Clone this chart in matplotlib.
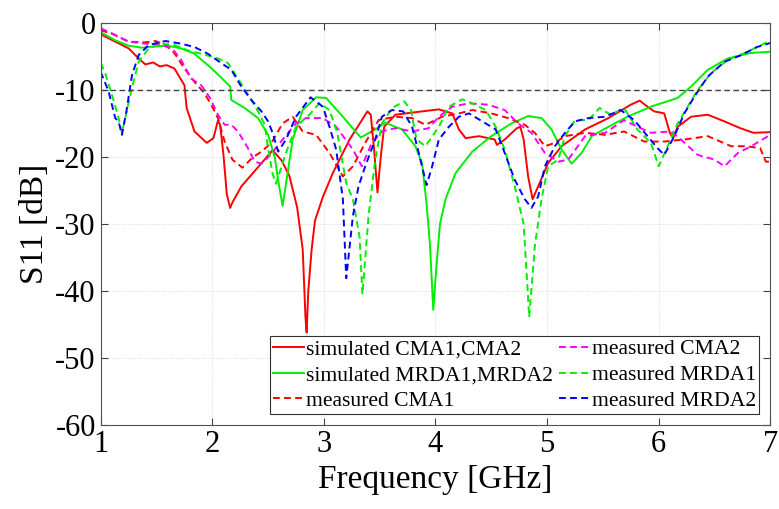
import numpy as np
import matplotlib
matplotlib.use("Agg")
import matplotlib.pyplot as plt

# simulated CMA1,CMA2 (red solid)
f_sim_cma = [1.0, 1.25, 1.34, 1.40, 1.47, 1.53, 1.59, 1.66, 1.75, 1.77, 1.84, 1.95, 2.01, 2.05, 2.07,
             2.10, 2.13, 2.16, 2.18, 2.26, 2.38, 2.54, 2.62, 2.69, 2.76, 2.81, 2.835, 2.845, 2.86, 2.89,
             2.92, 2.99, 3.08, 3.23, 3.39, 3.42, 3.45, 3.48, 3.51, 3.54, 3.64, 3.88, 4.03, 4.15, 4.21,
             4.27, 4.39, 4.53, 4.55, 4.62, 4.73, 4.76, 4.79, 4.83, 4.87, 4.92, 5.01, 5.13, 5.34, 5.55,
             5.75, 5.83, 5.90, 5.96, 6.05, 6.10, 6.13, 6.17, 6.29, 6.44, 6.59, 6.73, 6.85, 7.0]
s_sim_cma = [-1.7, -3.8, -5.3, -6.2, -5.9, -6.5, -6.3, -6.8, -9.3, -12.7, -16.2, -17.9, -17.2, -14.6, -15.2,
             -19.7, -25.6, -27.6, -26.8, -24.4, -22.1, -19.0, -20.5, -22.8, -27.5, -33.8, -44.0, -46.2, -40.0, -33.8,
             -29.5, -26.0, -22.4, -17.4, -13.2, -13.7, -18.9, -25.3, -19.9, -15.5, -13.7, -13.2, -12.9, -13.5, -15.9,
             -17.2, -16.9, -17.4, -18.2, -17.4, -15.7, -15.5, -17.4, -22.9, -26.3, -24.4, -20.9, -18.4, -15.9, -14.2,
             -12.2, -11.6, -12.5, -13.2, -13.5, -16.4, -17.2, -15.5, -14.0, -13.7, -14.7, -15.7, -16.4, -16.3]

# simulated MRDA1,MRDA2 (green solid)
f_sim_mrda = [1.0, 1.13, 1.25, 1.37, 1.49, 1.60, 1.72, 1.84, 1.96, 2.07, 2.16, 2.17, 2.29, 2.41, 2.50,
              2.56, 2.60, 2.63, 2.66, 2.72, 2.81, 2.93, 3.02, 3.17, 3.33, 3.46, 3.55, 3.70, 3.82, 3.88,
              3.92, 3.95, 3.98, 4.01, 4.04, 4.09, 4.18, 4.33, 4.50, 4.68, 4.83, 4.95, 5.04, 5.13, 5.22,
              5.31, 5.40, 5.55, 5.72, 5.93, 6.17, 6.29, 6.44, 6.62, 6.82, 7.0]
s_sim_mrda = [-1.4, -2.6, -3.4, -3.7, -3.5, -3.4, -3.8, -4.6, -6.3, -8.0, -9.5, -11.5, -12.7, -14.2, -16.7,
              -20.1, -24.5, -27.3, -24.0, -17.4, -13.0, -11.1, -11.2, -14.0, -17.1, -15.9, -14.9, -15.9, -18.4, -21.0,
              -27.0, -33.0, -42.8, -36.0, -30.0, -26.3, -22.4, -19.2, -16.9, -15.0, -13.9, -14.2, -15.9, -18.9, -21.0,
              -19.4, -16.9, -15.5, -14.0, -12.5, -11.2, -9.5, -7.0, -5.3, -4.5, -4.3]

# measured CMA1 (red dashed)
f_meas_cma1 = [1.0, 1.10, 1.25, 1.40, 1.49, 1.58, 1.66, 1.75, 1.84, 1.93, 1.99, 2.05, 2.11, 2.18, 2.27,
               2.36, 2.44, 2.53, 2.63, 2.72, 2.81, 2.93, 3.05, 3.17, 3.26, 3.37, 3.49, 3.64, 3.79, 3.91,
               4.06, 4.21, 4.33, 4.50, 4.65, 4.80, 4.89, 4.98, 5.07, 5.16, 5.34, 5.52, 5.69, 5.87, 6.05,
               6.23, 6.44, 6.65, 6.79, 6.91, 6.96, 7.0]
s_meas_cma1 = [-1.1, -1.6, -2.8, -2.9, -2.7, -3.3, -4.5, -6.8, -8.8, -10.5, -12.2, -14.2, -17.7, -20.4, -21.6,
               -20.1, -19.2, -17.9, -15.0, -14.0, -16.2, -16.7, -19.4, -22.9, -21.4, -17.9, -14.5, -14.0, -14.2, -15.2,
               -14.0, -13.5, -13.0, -13.5, -14.2, -15.2, -16.4, -18.4, -17.9, -16.9, -16.4, -16.7, -16.2, -17.7, -17.7,
               -17.4, -16.9, -18.4, -18.4, -18.7, -20.7, -20.7]

# measured CMA2 (magenta dashed)
f_meas_cma2 = [1.0, 1.13, 1.25, 1.40, 1.52, 1.64, 1.72, 1.81, 1.90, 1.98, 2.05, 2.11, 2.17, 2.23, 2.32,
               2.38, 2.44, 2.51, 2.63, 2.75, 2.84, 2.99, 3.11, 3.26, 3.34, 3.43, 3.52, 3.64, 3.79, 3.94,
               4.03, 4.15, 4.30, 4.47, 4.62, 4.74, 4.86, 4.98, 5.10, 5.19, 5.34, 5.52, 5.69, 5.81, 5.93,
               6.11, 6.20, 6.35, 6.50, 6.59, 6.71, 6.83, 7.0]
s_meas_cma2 = [-0.8, -1.8, -2.8, -3.1, -3.2, -3.8, -5.5, -8.3, -9.3, -11.2, -13.7, -15.2, -15.2, -16.2, -18.7,
               -20.7, -21.0, -19.9, -17.4, -15.0, -14.2, -14.2, -15.5, -18.9, -21.4, -17.9, -16.2, -15.7, -16.2, -15.7,
               -14.0, -12.5, -12.0, -12.2, -13.0, -15.0, -16.4, -19.4, -20.7, -20.4, -16.9, -16.4, -14.5, -15.5, -16.4,
               -16.2, -17.4, -19.7, -20.4, -21.4, -19.4, -18.4, -16.7]

# measured MRDA1 (green dashed)
f_meas_mrda1 = [1.0, 1.04, 1.10, 1.16, 1.19, 1.22, 1.28, 1.34, 1.43, 1.55, 1.66, 1.78, 1.90, 2.05, 2.14,
                2.23, 2.32, 2.41, 2.47, 2.50, 2.54, 2.57, 2.66, 2.75, 2.87, 2.96, 3.05, 3.12, 3.20, 3.26,
                3.32, 3.345, 3.40, 3.46, 3.52, 3.61, 3.72, 3.78, 3.83, 3.91, 4.03, 4.12, 4.24, 4.33, 4.45,
                4.54, 4.62, 4.71, 4.79, 4.84, 4.89, 4.95, 5.01, 5.10, 5.16, 5.25, 5.37, 5.47, 5.57, 5.69,
                5.81, 5.93, 6.00, 6.08, 6.17, 6.26, 6.35, 6.47, 6.62, 6.77, 6.92, 7.0]
s_meas_mrda1 = [-6.0, -7.5, -10.7, -14.2, -16.4, -14.2, -9.7, -5.8, -3.8, -3.1, -3.3, -4.1, -4.6, -5.3, -6.0,
                -8.3, -10.7, -13.2, -15.2, -18.7, -22.5, -24.0, -19.4, -15.5, -13.7, -12.0, -13.0, -16.4, -23.9, -26.3,
                -32.0, -40.5, -28.8, -20.4, -15.0, -12.7, -11.7, -13.0, -17.4, -18.4, -15.5, -12.5, -11.4, -12.0, -13.0,
                -15.5, -18.9, -24.4, -30.0, -43.9, -33.3, -26.3, -21.4, -20.4, -16.9, -14.5, -14.5, -12.7, -13.7, -12.7,
                -15.9, -17.9, -21.4, -18.4, -15.0, -12.5, -10.0, -7.5, -5.5, -4.5, -3.3, -2.6]

# measured MRDA2 (blue dashed)
f_meas_mrda2 = [1.0, 1.07, 1.13, 1.16, 1.19, 1.23, 1.28, 1.34, 1.43, 1.58, 1.72, 1.84, 1.96, 2.08, 2.17,
                2.26, 2.35, 2.44, 2.50, 2.54, 2.59, 2.66, 2.75, 2.88, 2.99, 3.05, 3.11, 3.17, 3.20, 3.26,
                3.31, 3.37, 3.46, 3.52, 3.61, 3.71, 3.79, 3.85, 3.92, 3.97, 4.03, 4.12, 4.21, 4.30, 4.42,
                4.54, 4.62, 4.71, 4.80, 4.86, 4.92, 4.98, 5.07, 5.16, 5.25, 5.37, 5.52, 5.66, 5.78, 5.90,
                5.99, 6.05, 6.14, 6.23, 6.32, 6.44, 6.59, 6.74, 6.88, 7.0]
s_meas_mrda2 = [-7.3, -10.2, -14.2, -14.7, -16.7, -13.2, -7.8, -4.8, -3.3, -2.7, -3.1, -3.6, -4.6, -6.0, -7.0,
                -9.5, -11.5, -13.2, -14.7, -16.4, -19.2, -17.4, -14.0, -11.1, -12.5, -15.5, -18.9, -26.3, -38.1, -28.8,
                -24.4, -21.4, -17.4, -14.0, -13.0, -13.2, -15.5, -19.4, -24.2, -21.4, -17.4, -15.5, -14.0, -13.5, -14.7,
                -15.9, -19.4, -23.4, -26.3, -27.6, -25.9, -21.4, -18.4, -16.4, -14.7, -14.2, -14.0, -13.0, -14.5, -16.9,
                -18.7, -19.7, -16.9, -13.5, -11.0, -8.0, -5.8, -4.8, -3.6, -3.0]

plt.rcParams['font.family'] = ['Liberation Serif', 'DejaVu Serif']
plt.rcParams['axes.unicode_minus'] = False

fig = plt.figure(figsize=(7.79, 5.09), dpi=100)
ax = fig.add_axes([0.1293, 0.165, 0.8595, 0.790])

dash = (0, (3.5, 2.2))
lw = 1.4
ax.plot(f_sim_cma, s_sim_cma, color='#ff0000', lw=lw, label='simulated CMA1,CMA2')
ax.plot(f_sim_mrda, s_sim_mrda, color='#00ee00', lw=lw, label='simulated MRDA1,MRDA2')
ax.plot(f_meas_cma1, s_meas_cma1, color='#ff0000', lw=lw, ls=dash, label='measured CMA1')
ax.plot(f_meas_cma2, s_meas_cma2, color='#ff00ff', lw=lw, ls=dash, label='measured CMA2')
ax.plot(f_meas_mrda1, s_meas_mrda1, color='#00ee00', lw=lw, ls=dash, label='measured MRDA1')
ax.plot(f_meas_mrda2, s_meas_mrda2, color='#0000ff', lw=lw, ls=dash, label='measured MRDA2')

# -10 dB reference
ax.axhline(-10, color='#404040', lw=1.0, ls=(0, (4, 2.5)))

ax.set_xlim(1, 7)
ax.set_ylim(-60, 0)
ax.set_xticks(np.arange(1, 8, 1))
ax.set_yticks(np.arange(-60, 1, 10))
ax.grid(True, ls=':', lw=0.6, color='#d0d0d0')
ax.set_axisbelow(True)
ax.tick_params(direction='in', top=True, right=True, length=5, width=0.8,
               colors='#404040', labelcolor='black', labelsize=22)
for sp in ax.spines.values():
    sp.set_color('#505050')
    sp.set_linewidth(0.8)

ax.set_xlabel('Frequency [GHz]', fontsize=24)
ax.set_ylabel('S11 [dB]', fontsize=24)

leg = ax.legend(loc='lower right', ncol=2, fontsize=15.6, frameon=True, fancybox=False,
                framealpha=1, edgecolor='#303030', handlelength=1.4, handletextpad=0.1,
                labelspacing=0.26, columnspacing=0.3, borderpad=0.15, borderaxespad=0.5)
leg.get_frame().set_linewidth(0.8)

fig.savefig('out.png', dpi=100)
